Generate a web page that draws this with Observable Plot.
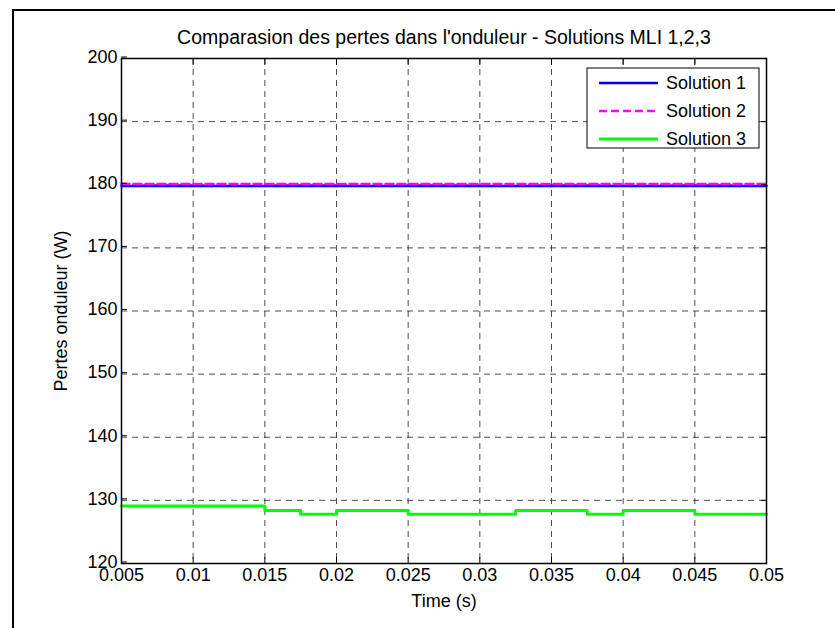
<!DOCTYPE html>
<html>
<head>
<meta charset="utf-8">
<script src="https://cdn.jsdelivr.net/npm/d3@7"></script>
<script src="https://cdn.jsdelivr.net/npm/@observablehq/plot@0.6"></script>
<style>
  html, body { margin: 0; padding: 0; background: #fff; }
  #chart svg { display: block; }
</style>
</head>
<body>
<div id="chart"></div>
<script>
// ---- data ----
const title = "Comparasion des pertes dans l'onduleur - Solutions MLI 1,2,3";
const xLabel = "Time (s)";
const yLabel = "Pertes onduleur (W)";
const seriesNames = ["Solution 1", "Solution 2", "Solution 3"];
const seriesColors = ["#0000ff", "#ff00ff", "#00ff00"];

const t1 = [0.005, 0.05];
const v1 = [179.8, 179.8];
const t2 = [0.005, 0.05];
const v2 = [180.1, 180.1];
const t3 = [0.005, 0.015, 0.0175, 0.02, 0.025, 0.0325, 0.0375, 0.04, 0.045, 0.05];
const v3 = [129.1, 128.4, 127.8, 128.4, 127.8, 128.4, 127.8, 128.4, 127.8, 127.8];

const xTicks = [0.005, 0.01, 0.015, 0.02, 0.025, 0.03, 0.035, 0.04, 0.045, 0.05];
const xTickLabels = ["0.005", "0.01", "0.015", "0.02", "0.025", "0.03", "0.035", "0.04", "0.045", "0.05"];
const yTicks = [120, 130, 140, 150, 160, 170, 180, 190, 200];
const yTickLabels = ["120", "130", "140", "150", "160", "170", "180", "190", "200"];

// ---- build tables ----
const s1 = t1.map((t, i) => ({t, v: v1[i]}));
const s2 = t2.map((t, i) => ({t, v: v2[i]}));
const s3 = t3.map((t, i) => ({t, v: v3[i]}));

const W = 835, H = 628;
const font = "'Liberation Sans', Arial, sans-serif";

const plot = Plot.plot({
  width: W,
  height: H,
  marginLeft: 121,
  marginRight: 69,
  marginTop: 58,
  marginBottom: 65,
  style: {fontFamily: font, fontSize: "18px", color: "#000", background: "#fff", overflow: "visible"},
  x: {domain: [0.005, 0.05], type: "linear"},
  y: {domain: [120, 200], type: "linear"},
  marks: [
    Plot.gridX(xTicks, {stroke: "#222", strokeOpacity: 0.8, strokeWidth: 1, strokeDasharray: "6,5"}),
    Plot.gridY(yTicks, {stroke: "#222", strokeOpacity: 0.8, strokeWidth: 1, strokeDasharray: "6,5"}),
    Plot.line(s1, {x: "t", y: "v", stroke: seriesColors[0], strokeWidth: 2.5}),
    Plot.line(s2, {x: "t", y: "v", stroke: seriesColors[1], strokeWidth: 2.5, strokeDasharray: "8,4"}),
    Plot.line(s3, {x: "t", y: "v", stroke: seriesColors[2], strokeWidth: 3, curve: "step-after"}),
    Plot.axisX(xTicks, {anchor: "bottom", tickSize: -6, tickPadding: 10.5, fontSize: 18,
      tickFormat: (d) => xTickLabels[xTicks.indexOf(d)],
      label: xLabel, labelAnchor: "center", labelArrow: "none", labelOffset: 43}),
    Plot.axisX(xTicks, {anchor: "top", tickSize: -6, tickFormat: () => "", label: null}),
    Plot.axisY(yTicks, {anchor: "left", tickSize: -6, tickPadding: 10, fontSize: 18, dy: -1.5,
      tickFormat: (d) => yTickLabels[yTicks.indexOf(d)],
      label: yLabel, labelAnchor: "center", labelArrow: "none", labelOffset: 67}),
    Plot.axisY(yTicks, {anchor: "right", tickSize: -6, tickFormat: () => "", label: null}),
    Plot.frame({stroke: "#000", strokeWidth: 1.5}),
    Plot.text([title], {frameAnchor: "top", dy: -21, lineAnchor: "middle", fontSize: 19.5, fill: "#000"})
  ]
});

document.getElementById("chart").appendChild(plot);

// ---- decorations: outer border and legend ----
const svg = d3.select(plot);
svg.append("rect")
  .attr("x", 13).attr("y", 10)
  .attr("width", W).attr("height", H)
  .attr("fill", "none").attr("stroke", "#000").attr("stroke-width", 2);

const xs = plot.scale("x"), ys = plot.scale("y");
const legRight = xs.apply(0.05) - 7;
const legTop = ys.apply(200) + 10;
const lw = 172, lh = 80;
const g = svg.append("g").attr("font-family", font).attr("font-size", 18).attr("text-anchor", "start");
g.append("rect")
  .attr("x", legRight - lw).attr("y", legTop).attr("width", lw).attr("height", lh)
  .attr("fill", "#fff").attr("stroke", "#000").attr("stroke-width", 1);
const dashes = [null, "8,4", null];
const widths = [2.5, 2.5, 3];
seriesNames.forEach((name, i) => {
  const cy = legTop + 15 + i * 28;
  g.append("line")
    .attr("x1", legRight - lw + 12).attr("x2", legRight - lw + 71)
    .attr("y1", cy).attr("y2", cy)
    .attr("stroke", seriesColors[i]).attr("stroke-width", widths[i])
    .attr("stroke-dasharray", dashes[i]);
  g.append("text")
    .attr("x", legRight - lw + 79).attr("y", cy).attr("dy", "0.35em")
    .attr("text-anchor", "start")
    .attr("fill", "#000").text(name);
});
</script>
</body>
</html>
